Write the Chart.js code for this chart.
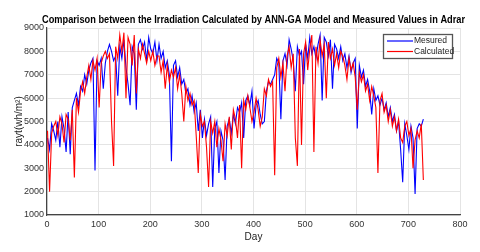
<!DOCTYPE html>
<html>
<head>
<meta charset="utf-8">
<script src="https://cdn.jsdelivr.net/npm/chart.js@4"></script>
<style>
  html, body { margin: 0; padding: 0; background: #fff; }
  #wrap { width: 480px; height: 252px; }
</style>
</head>
<body>
<div id="wrap"><canvas id="irrChart" width="480" height="252"></canvas></div>
<script>
// one sample every 4 days, day 1 .. 729
const days = [];
for (let d = 1; d <= 729; d += 4) days.push(d);

const measured = [
  4300, 3800, 4900, 4600, 4200, 5000, 3900, 5200, 4700, 3700,
  5400, 3600, 5600, 5900, 6200, 5700, 6500, 6300, 7000, 6600,
  7200, 7500, 7700, 2900, 7600, 7400, 7700, 6400, 7500, 8000,
  8300, 8000, 7600, 7800, 6100, 8200, 7700, 8500, 7300, 6600,
  5700, 8200, 7900, 5500, 8300, 8500, 8100, 8400, 7600, 8600,
  8100, 7900, 8400, 7600, 8300, 7700, 8000, 7300, 7600, 7000,
  3300, 7400, 7600, 6900, 7300, 6600, 6800, 6200, 6400, 5700,
  6100, 5400, 5800, 4600, 5500, 4300, 5100, 4400, 4900, 5200,
  2200, 4700, 5000, 2800, 4600, 4200, 2500, 4800, 5100, 4500,
  5300, 4900, 5600, 5400, 5800, 4300, 5900, 6100, 5700, 6300,
  4700, 5700, 5900, 5300, 4900, 5000, 6300, 6700, 6600, 6800,
  7000, 7700, 7500, 5100, 7600, 7900, 7400, 8500, 8100, 7600,
  6300, 8200, 7800, 8000, 6600, 8300, 7700, 8600, 7900, 8200,
  7700, 8300, 8700, 5900, 8600, 8400, 7800, 8500, 6400, 8300,
  8100, 7700, 8200, 7600, 7900, 7300, 7800, 7100, 7500, 7700,
  4700, 7400, 6900, 7200, 6500, 6800, 6300, 5300, 6400, 5900,
  6100, 5700, 6000, 5500, 5800, 5200, 5600, 5000, 5300, 4600,
  5000, 3800, 2400, 4900, 4400, 3800, 4800, 4300, 1900, 4700,
  4900, 4800, 5100
];

const calculated = [
  4600, 2000, 4500, 4800, 5000, 4400, 5200, 4900, 4100, 5300,
  5100, 4200, 5500, 2600, 6000, 5400, 6300, 6700, 6200, 6900,
  7400, 6800, 7600, 7200, 7700, 5600, 7500, 7800, 8000, 7700,
  7900, 5000, 3100, 8200, 7700, 8700, 8000, 8800, 6000, 8600,
  8300, 7400, 8700, 6200, 8100, 7700, 8300, 7900, 7500, 8000,
  7600, 8000, 7400, 7800, 7800, 7100, 7600, 6400, 7400, 6700,
  7200, 6900, 7300, 6400, 7000, 6200, 5000, 6500, 5900, 6200,
  5700, 5900, 4400, 2800, 5300, 4800, 5000, 3900, 2200, 5000,
  4500, 5000, 3900, 4700, 4200, 3300, 4900, 4400, 5200, 3800,
  5500, 5100, 4300, 5700, 3000, 5900, 5500, 6100, 5600, 5000,
  5400, 6000, 5500, 4800, 5200, 6400, 6100, 6800, 6500, 6700,
  2700, 7300, 7700, 6900, 7500, 6300, 7800, 8200, 7300, 7900,
  4300, 3100, 8100, 4000, 7900, 8400, 7200, 8100, 8700, 3700,
  8200, 7500, 8500, 7800, 8300, 6000, 8400, 7700, 8100, 7400,
  7900, 7300, 8000, 7800, 7400, 6800, 7700, 7200, 7500, 6900,
  5500, 7100, 6700, 7000, 6300, 6600, 5900, 6500, 6100, 5600,
  2800, 5900, 6200, 5400, 5700, 5000, 5500, 4800, 5200, 4600,
  5100, 4300, 4100, 4800, 5000, 4400, 4700, 3000, 4200, 4600,
  4300, 4900, 2500
];

const seriesNames = ['Mesured', 'Calculated'];
const seriesColors = ['#0000ff', '#ff0000'];
const titleText = 'Comparison between the Irradiation Calculated by ANN-GA Model and Measured Values in Adrar';

const toPoints = vals => vals.map((v, i) => ({ x: days[i], y: v }));

// title centred over the plot, squeezed to the reference width
const titlePlugin = {
  id: 'plotTitle',
  afterDraw(chart) {
    const ctx = chart.ctx;
    const a = chart.chartArea;
    ctx.save();
    ctx.font = 'bold 11px "Liberation Sans", Arial, sans-serif';
    ctx.fillStyle = '#000';
    ctx.textBaseline = 'middle';
    const w = ctx.measureText(titleText).width;
    const target = 423;
    const sx = Math.min(1, target / w);
    const cx = (a.left + a.right) / 2;
    ctx.translate(cx, 20);
    ctx.scale(sx, 1);
    ctx.textAlign = 'center';
    ctx.fillText(titleText, 0, 0);
    ctx.restore();
  }
};

// legend box inside the plot, top right
const boxLegend = {
  id: 'boxLegend',
  afterDraw(chart) {
    const ctx = chart.ctx;
    const x0 = 383, y0 = 34, w = 69, h = 24;
    ctx.save();
    ctx.fillStyle = '#fff';
    ctx.fillRect(x0, y0, w, h);
    ctx.strokeStyle = '#555';
    ctx.lineWidth = 1.3;
    ctx.strokeRect(x0 + 0.5, y0 + 0.5, w, h);
    ctx.font = '8.5px "Liberation Sans", Arial, sans-serif';
    ctx.textBaseline = 'middle';
    ctx.textAlign = 'left';
    seriesNames.forEach((name, i) => {
      const y = y0 + 7 + i * 10.5;
      ctx.strokeStyle = seriesColors[i];
      ctx.lineWidth = 1.2;
      ctx.beginPath();
      ctx.moveTo(x0 + 4, y);
      ctx.lineTo(x0 + 30, y);
      ctx.stroke();
      ctx.fillStyle = '#222';
      ctx.fillText(name, x0 + 31, y);
    });
    ctx.restore();
  }
};

const tickFont = { family: '"Liberation Sans", Arial, sans-serif', size: 9 };
const plainNum = v => String(v);

new Chart(document.getElementById('irrChart').getContext('2d'), {
  type: 'line',
  data: {
    datasets: [
      {
        label: seriesNames[0],
        data: toPoints(measured),
        borderColor: seriesColors[0],
        borderWidth: 1.1,
        pointRadius: 0,
        tension: 0,
        order: 2
      },
      {
        label: seriesNames[1],
        data: toPoints(calculated),
        borderColor: seriesColors[1],
        borderWidth: 1.1,
        pointRadius: 0,
        tension: 0,
        order: 1
      }
    ]
  },
  options: {
    responsive: false,
    animation: false,
    layout: { padding: { top: 28, right: 20, left: 0, bottom: 0 } },
    plugins: {
      legend: { display: false },
      title: { display: false },
      tooltip: { enabled: false }
    },
    scales: {
      x: {
        type: 'linear',
        min: 0,
        max: 800,
        afterFit: s => { s.height = 37; },
        ticks: { stepSize: 100, font: tickFont, color: '#333', padding: 4, maxRotation: 0, callback: plainNum },
        grid: { color: '#e4e4e4', drawTicks: false },
        border: { color: '#444', width: 1.2 },
        title: {
          display: true,
          text: 'Day',
          font: { family: '"Liberation Sans", Arial, sans-serif', size: 10 },
          color: '#222',
          padding: { top: 1, bottom: 9 }
        }
      },
      y: {
        min: 1000,
        max: 9000,
        afterFit: s => { s.width = 47; },
        ticks: { stepSize: 1000, font: tickFont, color: '#333', padding: 3, callback: plainNum },
        grid: { color: '#e4e4e4', drawTicks: false },
        border: { color: '#444', width: 1.2 },
        title: {
          display: true,
          text: 'rayt(wh/m²)',
          font: { family: '"Liberation Sans", Arial, sans-serif', size: 10 },
          color: '#222',
          padding: { top: 13, bottom: 2 }
        }
      }
    }
  },
  plugins: [titlePlugin, boxLegend]
});
</script>
</body>
</html>
